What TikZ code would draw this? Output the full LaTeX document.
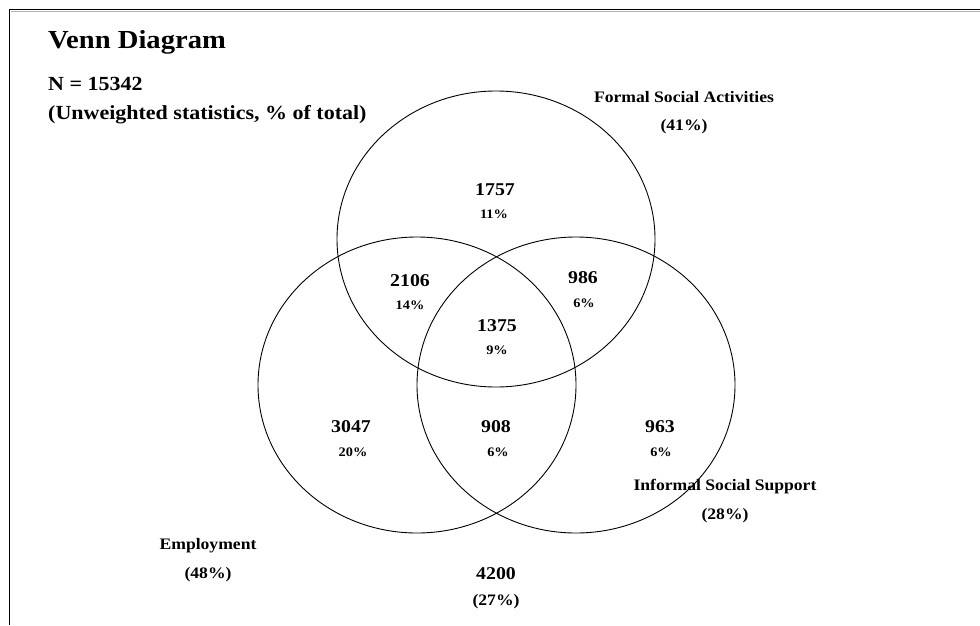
\documentclass[tikz,border=0pt]{standalone}
\usepackage{fontspec}
\setmainfont{Liberation Serif}[FakeStretch=1.1]
\begin{document}
\begin{tikzpicture}[x=1pt,y=-1pt,
  set/.style={draw=black,line width=0.9pt},
  head/.style={font=\bfseries\fontsize{20}{22}\selectfont,inner sep=0pt,anchor=base west},
  txt/.style={font=\bfseries\fontsize{16}{18}\selectfont,inner sep=0pt},
  count/.style={font=\bfseries\fontsize{18}{20}\selectfont,inner sep=0pt},
  pct/.style={font=\bfseries\fontsize{13}{15}\selectfont,inner sep=0pt}]
\useasboundingbox (0,0) rectangle (980,625);
% frame: top and left rules
\coordinate (tl) at (9.5,9.5);
\coordinate (tr) at (980,9.5);
\coordinate (bl) at (9.5,625);
\draw[gray!60,line width=1pt] (11,11) -- (980,11);
\draw[line width=1.3pt] (tr) -- (tl) -- (bl);
% the three sets
\draw[set] (496,239) ellipse [x radius=159, y radius=148];
\draw[set] (417,385) ellipse [x radius=159, y radius=148];
\draw[set] (576,385) ellipse [x radius=159, y radius=148];
% heading
\node[head,font=\bfseries\fontsize{26}{28}\selectfont] (title) at (48,48) {Venn Diagram};
\node[head] (n) at (48,90) {N = 15342};
\node[head] (note) at (48,119) {(Unweighted statistics, \% of total)};
% set labels
\node[txt] (fsa) at (684,97) {Formal Social Activities};
\node[txt] (fsap) at (684,127) {(41\%)};
\node[txt] (iss) at (725,487) {Informal Social Support};
\node[txt] (issp) at (725,516) {(28\%)};
\node[txt] (emp) at (208,546) {Employment};
\node[txt] (empp) at (208,575) {(48\%)};
\node[count] (none) at (496,574) {4200};
\node[txt] (nonep) at (496,602) {(27\%)};
% region counts
\node[count] (r1) at (495,190) {1757};  \node[pct] (r1p) at (494,214) {11\%};
\node[count] (r2) at (410,281) {2106};  \node[pct] (r2p) at (410,305) {14\%};
\node[count] (r3) at (583,278) {986};   \node[pct] (r3p) at (584,303) {6\%};
\node[count] (r4) at (497,326) {1375};  \node[pct] (r4p) at (497,350) {9\%};
\node[count] (r5) at (351,427) {3047};  \node[pct] (r5p) at (353,452) {20\%};
\node[count] (r6) at (496,427) {908};   \node[pct] (r6p) at (498,452) {6\%};
\node[count] (r7) at (660,427) {963};   \node[pct] (r7p) at (661,452) {6\%};
\end{tikzpicture}
\end{document}
